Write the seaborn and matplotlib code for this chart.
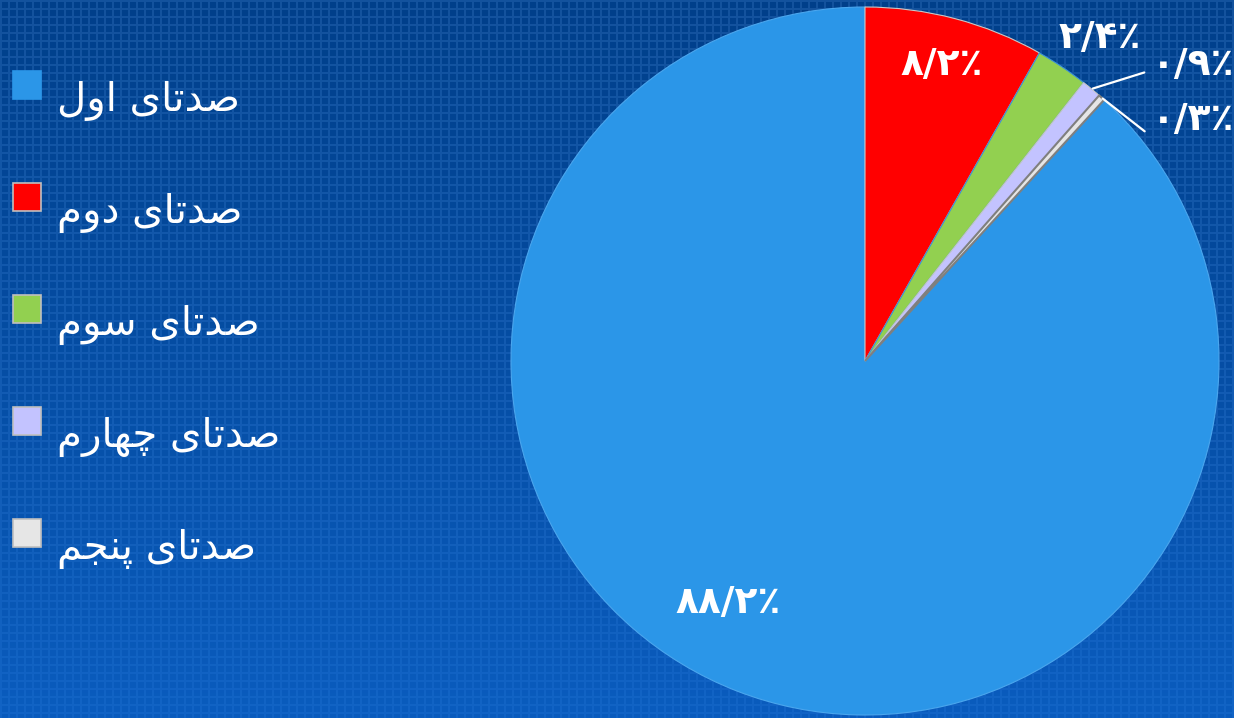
import numpy as np
import matplotlib.pyplot as plt
import seaborn as sns
from matplotlib.patches import Rectangle

# data
labels = ["صدتای اول", "صدتای دوم", "صدتای سوم", "صدتای چهارم", "صدتای پنجم"]
shares = [88.2, 8.2, 2.4, 0.9, 0.3]
share_text = ["۸۸/۲٪", "۸/۲٪", "۲/۴٪", "۰/۹٪", "۰/۳٪"]
colors = ["#2b96e8", "#ff0000", "#92d050", "#c3c3ff", "#e6e6e6"]

# label placement: (clockwise degrees from top, radius)
label_pos = [(209.5, 0.786), (14.6, 0.864), (36.0, 1.128), (47.9, 1.248), (53.7, 1.15)]

# matplotlib has no arabic shaping, so pick presentation forms by hand
FORMS = {
    'ص': (0xFEB9, 0xFEBA, 0xFEBB, 0xFEBC),
    'د': (0xFEA9, 0xFEAA),
    'ت': (0xFE95, 0xFE96, 0xFE97, 0xFE98),
    'ا': (0xFE8D, 0xFE8E),
    'ی': (0xFEEF, 0xFEF0, 0xFEF3, 0xFEF4),
    'و': (0xFEED, 0xFEEE),
    'ل': (0xFEDD, 0xFEDE, 0xFEDF, 0xFEE0),
    'م': (0xFEE1, 0xFEE2, 0xFEE3, 0xFEE4),
    'س': (0xFEB1, 0xFEB2, 0xFEB3, 0xFEB4),
    'چ': (0xFB7A, 0xFB7B, 0xFB7C, 0xFB7D),
    'ه': (0xFEE9, 0xFEEA, 0xFEEB, 0xFEEC),
    'ر': (0xFEAD, 0xFEAE),
    'پ': (0xFB56, 0xFB57, 0xFB58, 0xFB59),
    'ن': (0xFEE5, 0xFEE6, 0xFEE7, 0xFEE8),
    'ج': (0xFE9D, 0xFE9E, 0xFE9F, 0xFEA0),
}


def shape(text):
    out = []
    for i, ch in enumerate(text):
        f = FORMS.get(ch)
        if f is None:
            out.append(ch)
            continue
        prev = text[i - 1] if i > 0 else ''
        nxt = text[i + 1] if i + 1 < len(text) else ''
        jp = prev in FORMS and len(FORMS[prev]) == 4
        jn = len(f) == 4 and nxt in FORMS
        k = 3 if (jp and jn) else 1 if jp else 2 if jn else 0
        out.append(chr(f[k]))
    return ''.join(reversed(out))


sns.set_theme(style="white")
plt.rcParams['font.family'] = ['DejaVu Sans']

W, H = 1234, 718
fig = plt.figure(figsize=(W / 100, H / 100), dpi=100)

# background: blue gradient with a fine grid
t = np.linspace(0, 1, H)[:, None, None]
top = np.array([0, 63, 138]) / 255
bot = np.array([10, 92, 190]) / 255
img = np.repeat(top + (bot - top) * t, W, axis=1)
lines = np.zeros((H, W), bool)
lines[np.arange(H) % 8 < 2, :] = True
lines[:, np.arange(W) % 8 < 2] = True
boost = (0.075 - 0.045 * t[:, :, 0])
img = img + lines[:, :, None] * boost[:, :, None]
bg = fig.add_axes([0, 0, 1, 1])
bg.imshow(np.clip(img, 0, 1), aspect='auto')
bg.axis('off')

# pie
cx, cy, R = 865, 361, 354
ax = fig.add_axes([(cx - R) / W, (H - cy - R) / H, 2 * R / W, 2 * R / H])
start = 90 - 360 * (1 - shares[0] / sum(shares))
wedges, _ = ax.pie(shares, colors=colors, startangle=start, counterclock=False,
                   wedgeprops=dict(edgecolor='#c8c8c8', linewidth=0.8))
wedges[0].set_edgecolor('#4aa6ee')
wedges[2].set_edgecolor('#3a8fd8')
wedges[4].set_edgecolor('#7f7f7f')
wedges[4].set_linewidth(1.5)
ax.set_xlim(-1, 1)
ax.set_ylim(-1, 1)
ax.axis('off')

for i, (ang, r) in enumerate(label_pos):
    a = np.deg2rad(90 - ang)
    x, y = r * np.cos(a), r * np.sin(a)
    if i >= 3:
        w = wedges[i]
        mid = np.deg2rad((w.theta1 + w.theta2) / 2)
        ax.annotate(share_text[i], xy=(np.cos(mid), np.sin(mid)), xytext=(x, y),
                    ha='center', va='center', color='white', fontsize=27,
                    fontweight='bold', annotation_clip=False,
                    arrowprops=dict(arrowstyle='-', color='white', lw=1.6,
                                    relpos=(0, 0.15) if i == 4 else (0, 0.35),
                                    shrinkA=3, shrinkB=1,
                                    connectionstyle='angle,angleA=0,angleB=-38'
                                    if i == 4 else 'arc3'))
    else:
        ax.text(x, y, share_text[i], ha='center', va='center', color='white',
                fontsize=27, fontweight='bold', clip_on=False)

# legend drawn by hand on the left
for i, lab in enumerate(labels):
    yc = 85 + 112 * i
    fig.add_artist(Rectangle((13 / W, (H - yc - 14) / H), 28 / W, 28 / H,
                             transform=fig.transFigure, facecolor=colors[i],
                             edgecolor='#bfbfbf' if i else colors[0], lw=1.2))
    fig.text(57 / W, (H - yc - 16) / H, shape(lab), color='white', fontsize=29,
             ha='left', va='center')

fig.savefig('out.png', dpi=100)
